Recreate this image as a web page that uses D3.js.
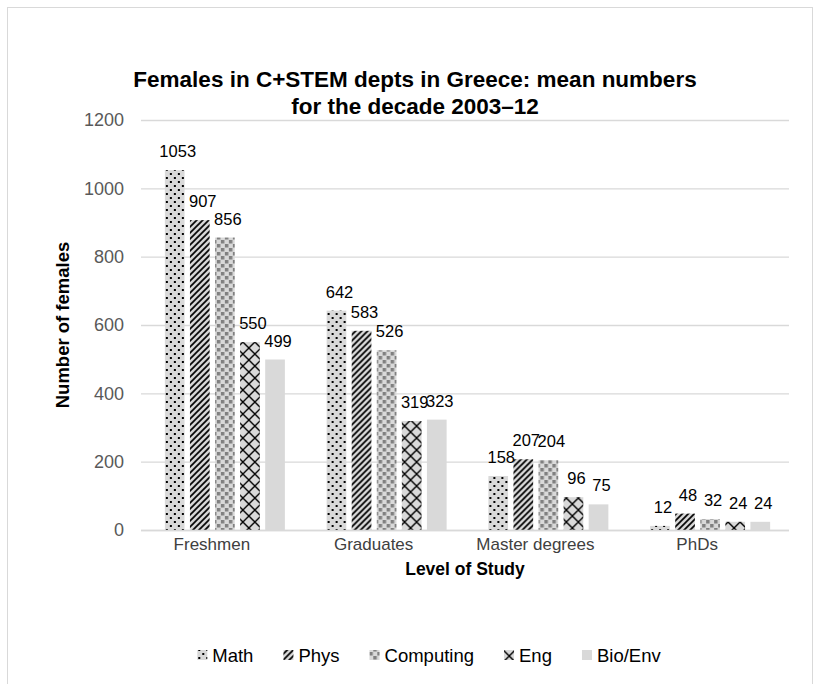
<!DOCTYPE html>
<html>
<head>
<meta charset="utf-8">
<script src="https://cdn.jsdelivr.net/npm/d3@7"></script>
<style>
  html, body { margin: 0; padding: 0; background: #fff; }
  svg { display: block; font-family: "Liberation Sans", Arial, sans-serif; }
</style>
</head>
<body>
<svg id="chart" width="830" height="684"></svg>
<script>
// Mean number of female students per level and department group, 2003–12
const categories = ["Freshmen", "Graduates", "Master degrees", "PhDs"];
const seriesNames = ["Math", "Phys", "Computing", "Eng", "Bio/Env"];
const mathVals = [1053, 642, 158, 12];
const physVals = [907, 583, 207, 48];
const computingVals = [856, 526, 204, 32];
const engVals = [550, 319, 96, 24];
const bioEnvVals = [499, 323, 75, 24];
const yTicks = [0, 200, 400, 600, 800, 1000, 1200];

const seriesValues = [mathVals, physVals, computingVals, engVals, bioEnvVals];

const svg = d3.select("#chart");
const plot = { left: 136, right: 783, top: 120, bottom: 530 };
const grid = { left: 141, right: 789 };

// Hatch fills for each department group
const defs = svg.append("defs");
const bg = "#d9d9d9";
function tile(id, size) {
  const p = defs.append("pattern").attr("id", id)
    .attr("patternUnits", "userSpaceOnUse")
    .attr("width", size).attr("height", size);
  p.append("rect").attr("width", size).attr("height", size).attr("fill", bg);
  return p;
}
// dotted
{
  const p = tile("pat-math", 8);
  p.append("rect").attr("x", 1).attr("y", 1).attr("width", 2).attr("height", 2).attr("fill", "#000");
  p.append("rect").attr("x", 5).attr("y", 5).attr("width", 2).attr("height", 2).attr("fill", "#000");
}
// upward diagonal stripes
{
  const p = tile("pat-phys", 6);
  p.append("path").attr("d", "M-1,7 L7,-1 M-4,4 L4,-4 M2,10 L10,2")
    .attr("stroke", "#000").attr("stroke-width", 1.7);
}
// grey confetti squares
{
  const p = tile("pat-comp", 8);
  p.append("rect").attr("x", 0).attr("y", 0).attr("width", 3.5).attr("height", 3.5).attr("fill", "#808080");
  p.append("rect").attr("x", 4).attr("y", 4).attr("width", 3.5).attr("height", 3.5).attr("fill", "#808080");
}
// diamond lattice
{
  const p = tile("pat-eng", 12);
  p.append("path").attr("d", "M0,0 L12,12 M12,0 L0,12")
    .attr("stroke", "#000").attr("stroke-width", 1.4);
}
const fills = ["url(#pat-math)", "url(#pat-phys)", "url(#pat-comp)", "url(#pat-eng)", bg];

// chart frame
svg.append("rect").attr("x", 7.5).attr("y", 7.5).attr("width", 805).attr("height", 720)
  .attr("fill", "none").attr("stroke", "#d9d9d9").attr("stroke-width", 1);

const x0 = d3.scaleBand().domain(categories).range([plot.left, plot.right]);
const groupWidth = 120;
const groupShift = 8;
const x1 = d3.scaleBand().domain(seriesNames).range([0, groupWidth]).paddingInner(0.215);
const y = d3.scaleLinear().domain([0, 1200]).range([plot.bottom, plot.top]);

// gridlines
svg.append("g").selectAll("line").data(yTicks).join("line")
  .attr("x1", grid.left).attr("x2", grid.right)
  .attr("y1", d => y(d) + 0.5).attr("y2", d => y(d) + 0.5)
  .attr("stroke", "#d9d9d9").attr("stroke-width", 1.3);

// y axis labels
const yAxis = svg.append("g").attr("transform", `translate(${grid.left},0)`)
  .call(d3.axisLeft(y).tickValues(yTicks).tickFormat(d3.format("d")).tickSize(0).tickPadding(17));
yAxis.select(".domain").remove();
yAxis.selectAll("text").attr("font-size", 18).attr("fill", "#595959")
  .attr("font-family", "Liberation Sans, Arial, sans-serif");

// x axis labels
const xAxis = svg.append("g").attr("transform", `translate(0,${plot.bottom})`)
  .call(d3.axisBottom(x0).tickSize(0).tickPadding(8));
xAxis.select(".domain").remove();
xAxis.selectAll("text").attr("font-size", 17).attr("fill", "#404040").attr("dx", -5)
  .attr("font-family", "Liberation Sans, Arial, sans-serif");

// bars
const groups = svg.append("g").selectAll("g").data(categories).join("g")
  .attr("transform", c => `translate(${x0(c) + (x0.bandwidth() - groupWidth) / 2 + groupShift},0)`);

const cells = (c, i) => seriesNames.map((s, j) => ({ s, j, v: seriesValues[j][i] }));

groups.selectAll("rect").data(cells).join("rect")
  .attr("x", d => x1(d.s))
  .attr("width", x1.bandwidth())
  .attr("y", d => y(d.v))
  .attr("height", d => y(0) - y(d.v))
  .attr("fill", d => fills[d.j]);

groups.selectAll("text").data(cells).join("text")
  .attr("x", d => x1(d.s) + x1.bandwidth() / 2 + 3)
  .attr("y", d => y(d.v) - 13)
  .attr("text-anchor", "middle")
  .attr("font-size", 16.5).attr("fill", "#000")
  .text(d => d.v);

// baseline
svg.append("line").attr("x1", grid.left).attr("x2", grid.right)
  .attr("y1", plot.bottom + 0.5).attr("y2", plot.bottom + 0.5)
  .attr("stroke", "#d9d9d9").attr("stroke-width", 1.3);

// titles
const title = svg.append("text").attr("x", 415).attr("y", 87).attr("text-anchor", "middle")
  .attr("font-size", 22.5).attr("font-weight", "bold").attr("fill", "#000");
title.append("tspan").attr("x", 415).attr("dy", 0).text("Females in C+STEM depts in Greece: mean numbers");
title.append("tspan").attr("x", 415).attr("dy", 27).text("for the decade 2003–12");

svg.append("text").attr("transform", `translate(69,${(plot.top + plot.bottom) / 2}) rotate(-90)`)
  .attr("text-anchor", "middle").attr("font-size", 18.5).attr("font-weight", "bold").attr("fill", "#000")
  .text("Number of females");

svg.append("text").attr("x", 465).attr("y", 575)
  .attr("text-anchor", "middle").attr("font-size", 17.5).attr("font-weight", "bold").attr("fill", "#000")
  .text("Level of Study");

// legend
const legend = svg.append("g");
const sw = 10, gapText = 5, gapItem = 30;
let cx = 0;
seriesNames.forEach((s, j) => {
  const g = legend.append("g");
  g.append("rect").attr("x", cx).attr("y", -sw / 2 - 1).attr("width", sw).attr("height", sw).attr("fill", fills[j]);
  const t = g.append("text").attr("x", cx + sw + gapText).attr("y", 6).attr("font-size", 18.5).attr("fill", "#000").text(s);
  cx += sw + gapText + t.node().getComputedTextLength() + gapItem;
});
const legendWidth = cx - gapItem;
legend.attr("transform", `translate(${429 - legendWidth / 2},656)`);
</script>
</body>
</html>
